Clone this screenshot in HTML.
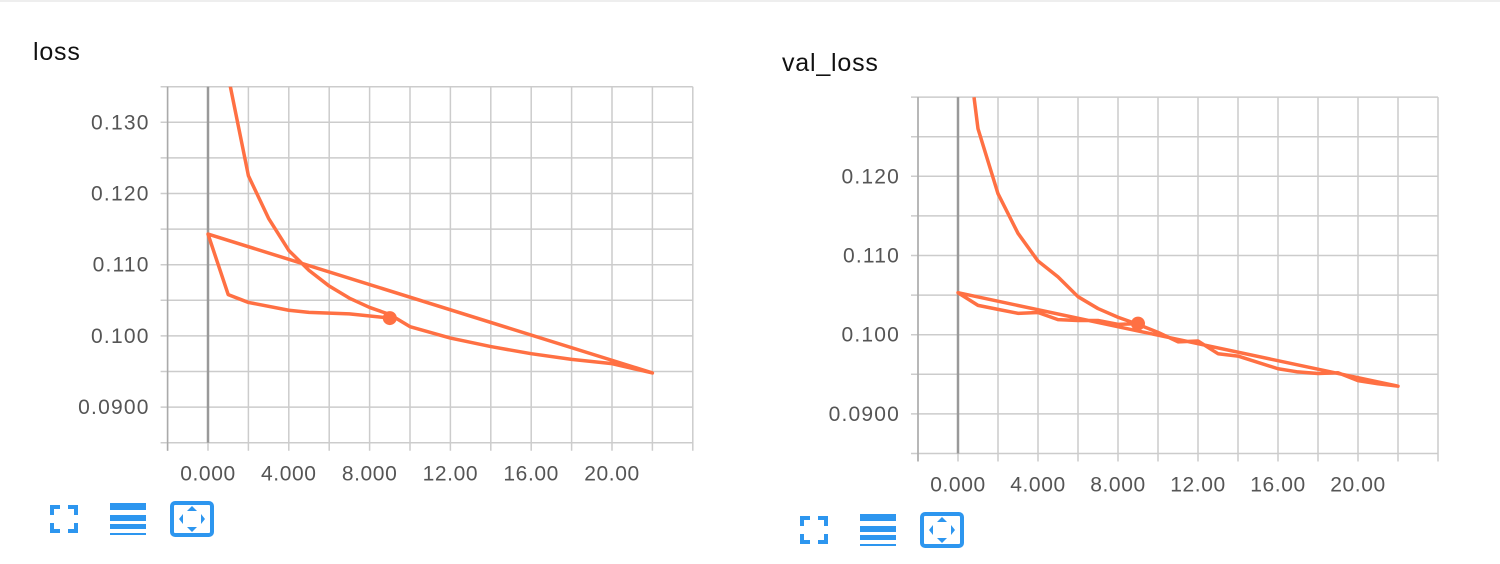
<!DOCTYPE html>
<html><head><meta charset="utf-8"><style>
body{margin:0;width:1500px;height:564px;background:#fff;overflow:hidden;font-family:"Liberation Sans",sans-serif}
svg{position:absolute;left:0;top:0}
</style></head><body>
<svg id="s" width="1500" height="564" xmlns="http://www.w3.org/2000/svg">
<rect x="0" y="0" width="1500" height="2" fill="#eee"/>
</svg>
<script>
const lossSteps1=[1,2,3,4,5,6,7,8,9,10,12,14,16,18,20,22];
const lossVals1=[0.1365,0.1225,0.1165,0.1120,0.1092,0.1070,0.1053,0.1040,0.1030,0.1013,0.0997,0.0985,0.0975,0.0967,0.0961,0.0948];
const lossSteps2=[0,1,2,4,5,7,9];
const lossVals2=[0.1143,0.1058,0.1047,0.1036,0.1033,0.1031,0.1025];
const valSteps1=[0.8,1,2,3,4,5,6,7,8,9,10,11,12,13,14,15,16,17,18,19,20,21,22];
const valVals1=[0.1300,0.1260,0.1178,0.1128,0.1093,0.1073,0.1048,0.1033,0.1022,0.1013,0.1003,0.0991,0.0992,0.0976,0.0973,0.0965,0.0957,0.0953,0.0951,0.0952,0.0942,0.0938,0.0935];
const valSteps2=[0,1,2,3,4,5,6,7,8,9];
const valVals2=[0.1053,0.1037,0.1032,0.1027,0.1028,0.1019,0.1018,0.1018,0.1013,0.1014];
const xTicks=[0,4,8,12,16,20];
const xTickLabels=["0.000","4.000","8.000","12.00","16.00","20.00"];
const lossYTicks=[0.130,0.120,0.110,0.100,0.090];
const lossYLabels=["0.130","0.120","0.110","0.100","0.0900"];
const valYTicks=[0.120,0.110,0.100,0.090];
const valYLabels=["0.120","0.110","0.100","0.0900"];

const NS="http://www.w3.org/2000/svg";
const svg=document.getElementById('s');
function mk(tag,attrs,parent){const e=document.createElementNS(NS,tag);for(const k in attrs)e.setAttribute(k,attrs[k]);(parent||svg).appendChild(e);return e;}

function chart(cfg){
  const g=mk('g',{});
  
  
  const X=v=>cfg.x0+(v-cfg.xmin)*cfg.xs;
  const Y=v=>cfg.y0-(v-cfg.ymin)*cfg.ys;
  const L=X(cfg.xmin),R=X(cfg.xmax),T=Y(cfg.ymax),B=Y(cfg.ymin);
  const t=mk('text',{x:cfg.tx,y:cfg.ty,'font-size':25,fill:'#111','letter-spacing':0.8},g);t.textContent=cfg.title;
  
  
  for(let v=cfg.xmin;v<=cfg.xmax+1e-9;v+=2){mk('line',{x1:X(v),x2:X(v),y1:T,y2:B+8,stroke:'#ccc','stroke-width':1.5},g);}
  for(let v=cfg.ymin;v<=cfg.ymax+1e-9;v+=0.005){mk('line',{x1:L-7,x2:R,y1:Y(v),y2:Y(v),stroke:'#ccc','stroke-width':1.5},g);}
  mk('line',{x1:L,x2:L,y1:T,y2:B+8,stroke:'#aaa','stroke-width':1.5},g);
  mk('line',{x1:X(0),x2:X(0),y1:T,y2:B,stroke:'#999','stroke-width':2.5},g);
  xTicks.forEach((v,i)=>{const e=mk('text',{x:X(v),y:B+38,'font-size':21,fill:'#555','text-anchor':'middle','letter-spacing':0.6},g);e.textContent=xTickLabels[i];
    
    });
  cfg.yt.forEach((v,i)=>{const e=mk('text',{x:L-18,y:Y(v)+7,'font-size':21,fill:'#555','text-anchor':'end','letter-spacing':1.2},g);e.textContent=cfg.yl[i];
    
    });
  const cp=mk('clipPath',{id:cfg.name+'-clip'},g);mk('rect',{x:L,y:T,width:R-L,height:B-T},cp);
  const pts=[];cfg.s1.forEach((s,i)=>pts.push(X(s)+','+Y(cfg.v1[i])));cfg.s2.forEach((s,i)=>pts.push(X(s)+','+Y(cfg.v2[i])));
  const pl=mk('polyline',{points:pts.join(' '),fill:'none',stroke:'#ff7043','stroke-width':3.5,'stroke-linejoin':'round','clip-path':'url(#'+cfg.name+'-clip)'},g);
  
  
  const n=cfg.s2.length-1;
  const c=mk('circle',{cx:X(cfg.s2[n]),cy:Y(cfg.v2[n]),r:7,fill:'#ff7043'},g);
  
  
  const ix=cfg.ix,iy=cfg.iy,col='#2d96ef';
  const i1=mk('g',{fill:col},g);
  
  
  [[0,0,10,4],[0,0,4,10],[18,0,10,4],[24,0,4,10],[0,24,10,4],[0,18,4,10],[18,24,10,4],[24,18,4,10]].forEach(r=>mk('rect',{x:ix+r[0],y:iy+r[1],width:r[2],height:r[3]},i1));
  const i2=mk('g',{fill:col},g);
  
  
  [[-2,7],[10,6],[19,5],[28,2]].forEach(r=>mk('rect',{x:ix+60,y:iy+r[0],width:36,height:r[1]},i2));
  const i3=mk('g',{},g);
  
  
  mk('rect',{x:ix+122,y:iy-2,width:40,height:32,rx:3,fill:'none',stroke:col,'stroke-width':4},i3);
  const cx=ix+142,cy=iy+14;
  mk('polygon',{points:`${cx-5},${cy-8} ${cx+5},${cy-8} ${cx},${cy-13}`,fill:col},i3);
  mk('polygon',{points:`${cx-5},${cy+8} ${cx+5},${cy+8} ${cx},${cy+13}`,fill:col},i3);
  mk('polygon',{points:`${cx-13},${cy} ${cx-9},${cy-5} ${cx-9},${cy+5}`,fill:col},i3);
  mk('polygon',{points:`${cx+13},${cy} ${cx+9},${cy-5} ${cx+9},${cy+5}`,fill:col},i3);
}
chart({name:'loss-chart',title:'loss',tx:33,ty:60,x0:167.6,xs:20.2,xmin:-2,xmax:24,y0:442.7,ys:7120,ymin:0.085,ymax:0.135,yt:lossYTicks,yl:lossYLabels,s1:lossSteps1,v1:lossVals1,s2:lossSteps2,v2:lossVals2,ix:50,iy:505});
chart({name:'val-loss-chart',title:'val_loss',tx:782,ty:71,x0:918,xs:20,xmin:-2,xmax:24,y0:453.5,ys:7920,ymin:0.085,ymax:0.130,yt:valYTicks,yl:valYLabels,s1:valSteps1,v1:valVals1,s2:valSteps2,v2:valVals2,ix:800,iy:516});
</script>
</body></html>
